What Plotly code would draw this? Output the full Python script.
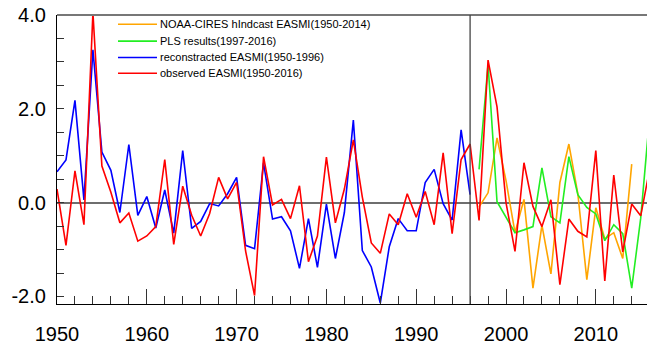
import plotly.graph_objects as go

# ---------------- data ----------------
obs_years = list(range(1950, 2017))
observed = [0.29, -0.91, 0.68, -0.47, 4.05, 0.78, 0.22, -0.43, -0.22, -0.82,
            -0.71, -0.51, 0.92, -0.89, 0.35, -0.27, -0.71, -0.23, 0.54, 0.08,
            0.43, -1.03, -1.98, 0.98, -0.05, 0.07, -0.34, 0.36, -1.26, -0.71,
            0.97, -0.43, 0.29, 1.34, 0.12, -0.86, -1.08, -0.24, -0.47, 0.19,
            -0.31, 0.24, -0.47, 1.06, -0.66, 0.92, 1.25, -0.38, 3.04, 2.04,
            0.00, -1.04, 0.85, -0.08, -0.51, 0.06, -1.75, -0.35, -0.61, -0.73,
            1.11, -1.67, 0.59, -1.05, -0.03, -0.28, 0.72]

rec_years = list(range(1950, 1997))
reconstructed = [0.66, 0.91, 2.18, 0.06, 3.26, 1.08, 0.69, -0.21, 1.24, -0.27,
                 0.13, -0.54, 0.27, -0.65, 1.11, -0.55, -0.40, -0.02, -0.07, 0.19,
                 0.54, -0.91, -0.98, 0.85, -0.35, -0.30, -0.60, -1.40, -0.34, -1.38,
                 -0.03, -1.19, -0.21, 1.76, -1.02, -1.37, -2.14, -0.94, -0.34, -0.60,
                 -0.60, 0.43, 0.71, -0.02, -0.37, 1.55, 0.17]

pls_years = list(range(1997, 2017))
pls = [0.71, 2.95, 0.02, -0.30, -0.64, -0.58, -0.51, 0.74, -0.30, -0.43,
       0.98, 0.17, -0.10, -0.24, -0.81, -0.47, -0.66, -1.82, -0.33, 1.85]

noaa_years = list(range(1997, 2015))
noaa = [-0.09, 0.21, 1.38, 0.47, -0.64, 0.07, -1.82, -0.48, -1.52, 0.43,
        1.25, 0.19, -1.64, -0.11, -0.77, -0.64, -1.19, 0.82]

split_year = 1996

y_tickvals = [-2, 0, 2, 4]
y_ticktext = ["-2.0", "0.0", "2.0", "4.0"]

legend_labels = ["NOAA-CIRES hIndcast EASMI(1950-2014)",
                 "PLS results(1997-2016)",
                 "reconstracted EASMI(1950-1996)",
                 "observed EASMI(1950-2016)"]
colors = ["#FFA500", "#22EE22", "#0000FF", "#FF0000"]

# ---------------- figure ----------------
W, H = 647, 345
ML, MR, MT, MB = 57, 0, 15, 36
PW, PH = W - ML - MR, H - MT - MB

fig = go.Figure()
series = [(noaa_years, noaa), (pls_years, pls), (rec_years, reconstructed), (obs_years, observed)]
for (xs, ys), c, name in zip(series, colors, legend_labels):
    fig.add_trace(go.Scatter(x=xs, y=ys, mode="lines", name=name,
                             line=dict(color=c, width=1.6), showlegend=False))

def px_x(p):
    return (p - ML) / PW

def px_y(p):
    return (H - MB - p) / PH

shapes = [
    # top frame line
    dict(type="line", xref="paper", yref="paper", x0=0, x1=1, y0=1, y1=1,
         line=dict(color="#777777", width=2)),
    # split line
    dict(type="line", xref="x", yref="paper", x0=split_year, x1=split_year, y0=0, y1=1,
         line=dict(color="#444444", width=1.3)),
]
annotations = []
rows = [24.4, 41.6, 58.2, 74.2]
for lab, c, ry in zip(legend_labels, colors, rows):
    shapes.append(dict(type="line", xref="paper", yref="paper",
                       x0=px_x(118), x1=px_x(157), y0=px_y(ry), y1=px_y(ry),
                       line=dict(color=c, width=1.6)))
    annotations.append(dict(xref="paper", yref="paper", x=px_x(157.5), y=px_y(ry),
                            text=lab, showarrow=False, xanchor="left", yanchor="middle",
                            font=dict(family="Liberation Sans, Arial, sans-serif",
                                      size=11, color="black")))

fig.update_layout(
    width=W, height=H,
    margin=dict(l=ML, r=MR, t=MT, b=MB, pad=0),
    paper_bgcolor="white", plot_bgcolor="white",
    shapes=shapes, annotations=annotations,
    font=dict(family="Liberation Sans, Arial, sans-serif", size=20, color="black"),
)
fig.update_xaxes(range=[1950, 2015.7], showgrid=False, zeroline=False,
                 showline=True, linecolor="black", linewidth=1.3,
                 ticks="inside", tickmode="linear", tick0=1950, dtick=10,
                 ticklen=15, tickwidth=1.3, tickcolor="#333333",
                 ticklabelstandoff=12,
                 minor=dict(ticks="inside", dtick=2, tick0=1950, ticklen=8,
                            tickwidth=1, tickcolor="#333333"))
fig.update_yaxes(range=[-2.16, 4.0], showgrid=False,
                 zeroline=True, zerolinecolor="#6e6e6e", zerolinewidth=2,
                 showline=True, linecolor="black", linewidth=1.3,
                 ticks="inside", tickmode="array", tickvals=y_tickvals, ticktext=y_ticktext,
                 ticklen=7, tickwidth=1, tickcolor="#333333",
                 ticklabelstandoff=6,
                 minor=dict(ticks="inside", dtick=0.5, tick0=0, ticklen=7,
                            tickwidth=1, tickcolor="#333333"))

fig.write_html("out.html", config={"displayModeBar": False},
               post_script="document.body.style.margin='0';document.body.style.overflow='hidden';")
